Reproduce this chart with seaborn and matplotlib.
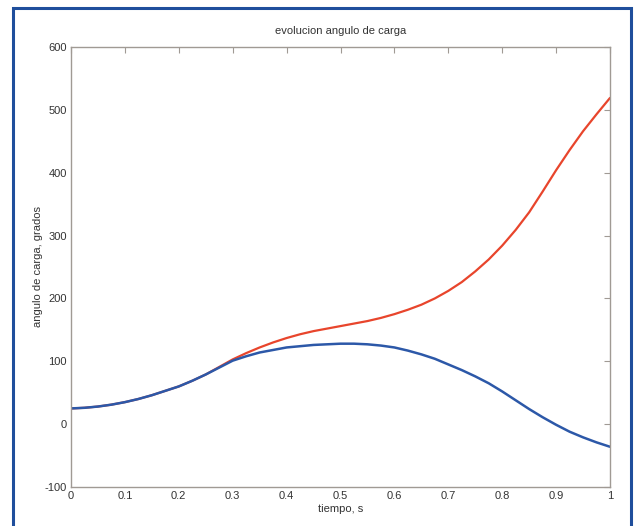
import pandas as pd
import matplotlib.pyplot as plt
import seaborn as sns
from matplotlib.patches import Rectangle

# valores (paso de 0.025 s)
tiempo = [0.0, 0.025, 0.05, 0.075, 0.1, 0.125, 0.15, 0.175, 0.2, 0.225,
          0.25, 0.275, 0.3, 0.325, 0.35, 0.375, 0.4, 0.425, 0.45, 0.475,
          0.5, 0.525, 0.55, 0.575, 0.6, 0.625, 0.65, 0.675, 0.7, 0.725,
          0.75, 0.775, 0.8, 0.825, 0.85, 0.875, 0.9, 0.925, 0.95, 0.975, 1.0]
angulo_inestable = [25, 26, 28, 31, 35, 40, 46, 53, 60, 69,
                    79, 91, 103, 113, 122, 130, 137, 143, 148, 152,
                    156, 160, 164, 169, 175, 182, 190, 200, 212, 226,
                    243, 262, 284, 309, 337, 370, 404, 436, 466, 493, 519]
angulo_estable = [25, 26, 28, 31, 35, 40, 46, 53, 60, 69,
                  79, 90, 101, 108, 114, 118, 122, 124, 126, 127,
                  128, 128, 127, 125, 122, 117, 111, 104, 95, 86,
                  76, 65, 52, 38, 24, 11, -1, -12, -21, -29, -36]

df = pd.DataFrame({'tiempo': tiempo,
                   'inestable': angulo_inestable,
                   'estable': angulo_estable})

sns.set_style("white")
plt.rcParams['font.family'] = ['Liberation Sans', 'DejaVu Sans']
plt.rcParams['axes.unicode_minus'] = False

fig = plt.figure(figsize=(6.35, 5.26), dpi=100)
ax = fig.add_axes([71 / 635, 1 - 487 / 526, 539 / 635, 440 / 526])

sns.lineplot(data=df, x='tiempo', y='inestable', color='#e8452c', linewidth=1.6, ax=ax)
sns.lineplot(data=df, x='tiempo', y='estable', color='#2c58a8', linewidth=1.8, ax=ax)

ax.set_xlim(0, 1)
ax.set_ylim(-100, 600)
ax.set_xticks([0, 0.1, 0.2, 0.3, 0.4, 0.5, 0.6, 0.7, 0.8, 0.9, 1])
ax.set_xticklabels(['0', '0.1', '0.2', '0.3', '0.4', '0.5', '0.6', '0.7', '0.8', '0.9', '1'])
ax.set_yticks(range(-100, 601, 100))

for s in ax.spines.values():
    s.set_color('#a09a94')
    s.set_linewidth(1.0)
ax.tick_params(direction='in', length=4, width=0.8, color='#a09a94',
               labelsize=8, labelcolor='#333333', top=True, right=True, pad=3)

ax.set_title('evolucion angulo de carga', fontsize=8, color='#333333', pad=9)
ax.set_xlabel('tiempo, s', fontsize=8, color='#333333', labelpad=2)
ax.set_ylabel('angulo de carga, grados', fontsize=8, color='#333333', labelpad=1)

# marco azul alrededor
fig.patches.append(Rectangle((13 / 635, -0.1), 618 / 635, 1.1 - 8 / 526,
                             transform=fig.transFigure, fill=False,
                             edgecolor='#1f4e9c', linewidth=2.2))

fig.savefig('out.png', dpi=100)
